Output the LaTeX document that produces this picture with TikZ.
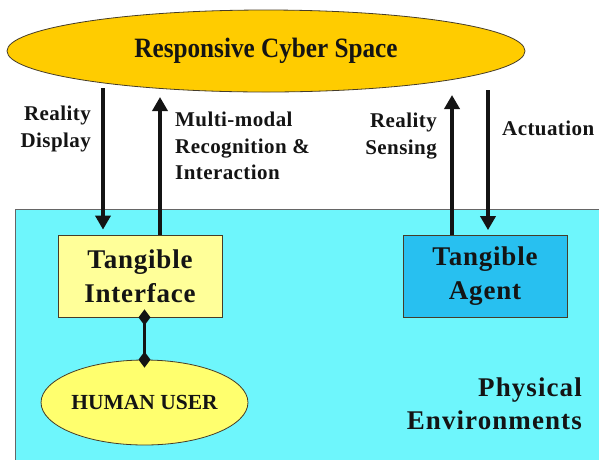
\documentclass[tikz,border=0pt]{standalone}
\usepackage{fontspec}
\setmainfont{Liberation Serif}
\usetikzlibrary{shapes.geometric,arrows.meta}
\definecolor{goldfill}{RGB}{255,204,0}
\definecolor{cyanbg}{RGB}{110,246,252}
\definecolor{tifill}{RGB}{255,255,153}
\definecolor{tafill}{RGB}{40,192,240}
\definecolor{hufill}{RGB}{255,255,110}
\definecolor{ink}{RGB}{20,20,20}
\definecolor{edge}{RGB}{70,60,40}
\tikzset{
  arr/.style={line width=4pt, ink, -{Triangle[width=15pt,length=14pt]}},
  dia/.style={line width=3pt, ink, {Diamond[width=12pt,length=16pt]}-{Diamond[width=12pt,length=16pt]}, shorten <=-8pt, shorten >=-8pt},
  lbl/.style={font=\fontsize{21}{26.5}\selectfont\bfseries\addfontfeature{LetterSpace=2}, text=ink, inner sep=0pt},
  boxtxt/.style={font=\fontsize{27}{34}\selectfont\bfseries\addfontfeature{LetterSpace=3}, text=ink, align=center},
  box/.style={rectangle, draw=edge, line width=0.8pt, minimum width=164pt, minimum height=82pt, inner sep=0pt}
}
\begin{document}
\begin{tikzpicture}[x=1pt,y=-1pt]
\useasboundingbox (0,0) rectangle (599,459);
\begin{scope}
\clip (0,0) rectangle (599,459);
\fill[cyanbg] (15,209) rectangle (640,490);
\draw[gray!80!black, line width=1pt] (15,490) -- (15,209) -- (640,209);
\end{scope}

\node[ellipse, draw=edge, line width=0.8pt, fill=goldfill, minimum width=518pt, minimum height=82pt, inner sep=0pt,
      font=\fontsize{28}{30}\selectfont\bfseries, text=ink] (cyber) at (266,51) {\scalebox{0.9}[1]{Responsive Cyber Space}};

\node[box, fill=tifill, boxtxt] (ti) at (140,276) {Tangible\\Interface};
\node[box, fill=tafill, boxtxt] (ta) at (485,276.5) {Tangible\\Agent};
\node[ellipse, draw=edge, line width=0.8pt, fill=hufill, minimum width=205pt, minimum height=85pt, inner sep=0pt,
      font=\fontsize{21.5}{24}\selectfont\bfseries, text=ink] (hu) at (144.5,402.5) {HUMAN USER};

\coordinate (d1) at (103,88);
\coordinate (u1) at (160,97);
\coordinate (u2) at (452,95);
\coordinate (d2) at (488,90);

\draw[arr, shorten >=5pt] (d1) -- (d1 |- ti.north);
\draw[arr] (u1 |- ti.north) -- (u1);
\draw[arr] (u2 |- ta.north) -- (u2);
\draw[arr, shorten >=5pt] (d2) -- (d2 |- ta.north);

\draw[dia] (ti.south -| hu.north) -- (hu.north);

\node[lbl, anchor=north east, align=right] (l1) at (91,106) {Reality\\Display};
\node[lbl, anchor=north west, align=left] (l2) at (175,112) {Multi-modal\\Recognition \&\\Interaction};
\node[lbl, anchor=north east, align=right] (l3) at (437,113) {Reality\\Sensing};
\node[lbl, anchor=north west, align=left] (l4) at (502,121) {Actuation};
\node[font=\fontsize{27}{33}\selectfont\bfseries\addfontfeature{LetterSpace=4}, text=ink, inner sep=0pt, anchor=north east, align=right] (pe) at (582,378) {Physical\\Environments};
\end{tikzpicture}
\end{document}
